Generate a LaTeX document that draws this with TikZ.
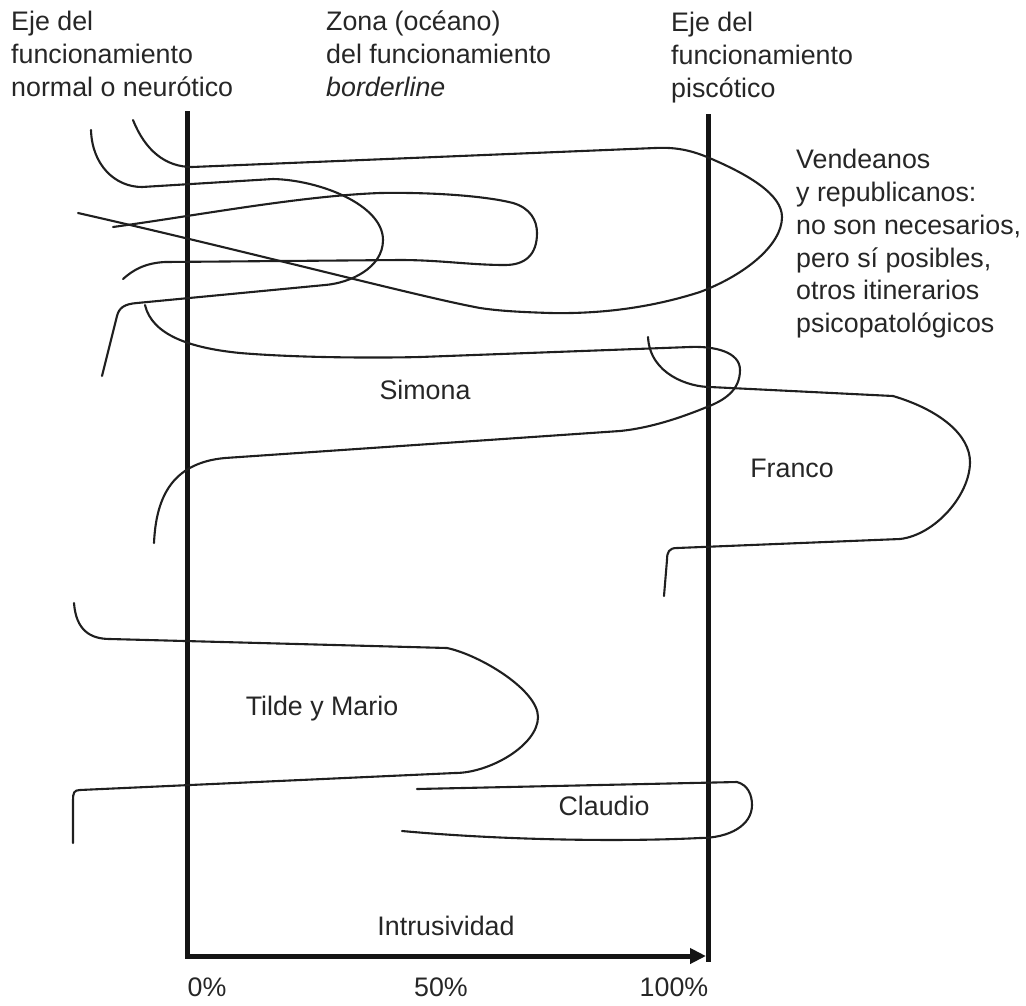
\documentclass[tikz,border=0pt]{standalone}
\usepackage{fontspec}
\setmainfont{Liberation Sans}
\usetikzlibrary{arrows.meta}
\begin{document}
\begin{tikzpicture}[x=1pt,y=-1pt,
  curve/.style={line width=2.1pt, draw=black!88, line cap=round, line join=round},
  axis/.style={line width=5pt, draw=black!92},
  lbl/.style={inner sep=0pt, text=black!85, font=\fontsize{26.8}{32.8}\selectfont},
  head/.style={lbl, align=left, anchor=north west},
]
\useasboundingbox (0,0) rectangle (1026,1005);
% axes
\coordinate (L0) at (187,111);
\coordinate (L1) at (187,958.5);
\coordinate (R0) at (708,114);
\coordinate (R1) at (708,962);
\coordinate (A0) at (187,956);
\coordinate (A1) at (706,956);
\draw[axis] (L0) -- (L1);
\draw[axis] (R0) -- (R1);
\draw[axis, -{Triangle[length=16pt,width=15pt]}] (A0) -- (A1);

% A: big loop (Vendeanos)
\draw[curve] (133,120) .. controls (145,150) and (165,167) .. (192,167)
  -- (655,148) .. controls (675,147) and (690,150) .. (707,157)
  .. controls (750,175) and (782,195) .. (782,217)
  .. controls (782,245) and (745,275) .. (700,292)
  .. controls (650,308) and (600,314) .. (550,313)
  .. controls (520,312) and (500,311) .. (480,308)
  .. controls (420,297) and (250,252) .. (78,213);
% B
\draw[curve] (91,130) .. controls (92,165) and (115,187) .. (142,187)
  -- (273,179) .. controls (320,180) and (383,205) .. (383,240)
  .. controls (383,268) and (350,283) .. (325,285)
  -- (137,303) .. controls (124,304) and (119,308) .. (117,316)
  -- (102,376);
% C
\draw[curve] (113,227) .. controls (200,215) and (300,196) .. (380,193)
  .. controls (440,192) and (490,197) .. (513,203)
  .. controls (530,208) and (537,220) .. (537,233)
  .. controls (537,255) and (525,265) .. (505,265)
  .. controls (470,265) and (440,260) .. (400,260)
  -- (165,262) .. controls (145,263) and (133,270) .. (123,279);
% D Simona
\draw[curve] (145,305) .. controls (152,335) and (190,348) .. (240,353)
  .. controls (300,358) and (380,358) .. (420,357)
  -- (690,347) .. controls (715,346) and (740,352) .. (740,370)
  .. controls (740,390) and (725,400) .. (707,407)
  .. controls (680,418) and (650,428) .. (620,431)
  -- (225,458) .. controls (170,463) and (156,500) .. (154,543);
% E Franco
\draw[curve] (648,337) .. controls (650,375) and (690,387) .. (710,387)
  -- (893,396) .. controls (940,410) and (970,435) .. (970,462)
  .. controls (970,495) and (935,535) .. (900,539)
  -- (677,548) .. controls (669,548) and (667,552) .. (667,560)
  -- (664,596);
% F Tilde y Mario
\draw[curve] (74,603) .. controls (76,630) and (90,639) .. (110,639)
  -- (447,648) .. controls (480,655) and (538,690) .. (538,717)
  .. controls (538,745) and (490,773) .. (455,773)
  -- (80,790) .. controls (74,790) and (73,793) .. (73,800)
  -- (73,843);
% G Claudio
\draw[curve] (417,789) -- (737,782)
  .. controls (748,785) and (752,795) .. (752,805)
  .. controls (752,825) and (730,838) .. (700,838)
  .. controls (620,842) and (500,840) .. (402,831);

% header texts
\node[head] (hl) at (11,11) {Eje del\\funcionamiento\\normal o neurótico};
\node[head] (hm) at (326,11) {Zona (océano)\\del funcionamiento\\\textit{borderline}};
\node[head] (hr) at (671,12) {Eje del\\funcionamiento\\piscótico};
\node[head] (ven) at (796,149) {Vendeanos\\y republicanos:\\no son necesarios,\\pero sí posibles,\\otros itinerarios\\psicopatológicos};
% curve labels
\node[lbl, anchor=base] (sim) at (425,399) {Simona};
\node[lbl, anchor=base] (fra) at (792,477) {Franco};
\node[lbl, anchor=base] (tym) at (322,715) {Tilde y Mario};
\node[lbl, anchor=base] (cla) at (604,815) {Claudio};
\node[lbl, anchor=base] (int) at (446,935) {Intrusividad};
\node[lbl, anchor=base] (p0) at (207,996) {0\%};
\node[lbl, anchor=base] (p50) at (441,996) {50\%};
\node[lbl, anchor=base] (p100) at (674,996) {100\%};
\end{tikzpicture}
\end{document}
